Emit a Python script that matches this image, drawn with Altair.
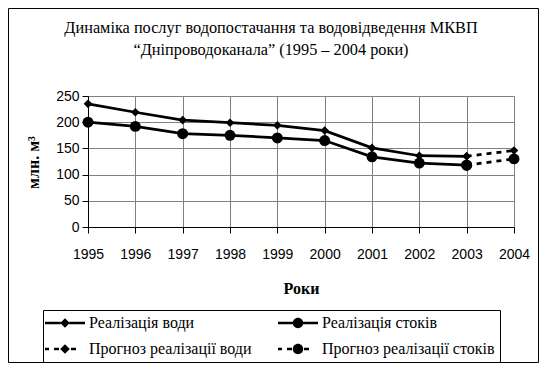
import altair as alt
import pandas as pd

# ---------------- data ----------------
years = ["1995", "1996", "1997", "1998", "1999", "2000", "2001", "2002", "2003", "2004"]
water_actual = [235, 219, 204, 199, 194, 184, 151, 136, 135]
sewage_actual = [200, 192, 178, 175, 170, 165, 134, 122, 118]
forecast_years = ["2003", "2004"]
water_forecast = [135, 146]
sewage_forecast = [118, 130]

series_names = ["Реалізація води", "Реалізація стоків",
                "Прогноз реалізації води", "Прогноз реалізації стоків"]
y_ticks = [0, 50, 100, 150, 200, 250]

title_lines = ["Динаміка послуг водопостачання та водовідведення МКВП",
               "“Дніпроводоканала” (1995 – 2004 роки)"]
x_title = "Роки"
y_title = "млн. м³"

rows = []
for y, v in zip(years[:9], water_actual):
    rows.append({"year": y, "value": v, "series": series_names[0], "kind": "water", "fc": 0})
for y, v in zip(years[:9], sewage_actual):
    rows.append({"year": y, "value": v, "series": series_names[1], "kind": "sewage", "fc": 0})
for y, v in zip(forecast_years, water_forecast):
    rows.append({"year": y, "value": v, "series": series_names[2], "kind": "water", "fc": 1})
for y, v in zip(forecast_years, sewage_forecast):
    rows.append({"year": y, "value": v, "series": series_names[3], "kind": "sewage", "fc": 1})
df = pd.DataFrame(rows)

# ------------- legend symbol paths (symbol size 256 -> 8 px per unit) -------------
PX = 8.0
SHIFT = 11.0      # path starts 11 px left of the symbol centre
HALF = 1.35       # half line thickness, px

def u(px):
    return (px - SHIFT) / PX

def bar(a, b):
    h = HALF / PX
    return f"M{u(a):.3f},{-h:.3f}H{u(b):.3f}V{h:.3f}H{u(a):.3f}Z"

def diamond(cx, k_px):
    c = u(cx); k = k_px / PX
    return f"M{c - k:.3f},0L{c:.3f},{-k:.3f}L{c + k:.3f},0L{c:.3f},{k:.3f}Z"

def circle(cx, r_px):
    c = u(cx); k = r_px / PX
    return (f"M{c - k:.3f},0A{k:.3f},{k:.3f} 0 1,1 {c + k:.3f},0"
            f"A{k:.3f},{k:.3f} 0 1,1 {c - k:.3f},0Z")

L = 40
mid = 20
DR, CR = 4.8, 5.2
solid_d = bar(0, mid - DR + 0.5) + bar(mid + DR - 0.5, L)
solid_c = bar(0, mid - CR + 0.5) + bar(mid + CR - 0.5, L)
dashed_line = bar(0, 4) + bar(9, 14) + bar(26, 31)
legend_order = [series_names[0], series_names[2], series_names[1], series_names[3]]
legend_paths = [solid_d + diamond(mid, DR),
                dashed_line + diamond(mid, DR),
                solid_c + circle(mid, CR),
                dashed_line + circle(mid, CR)]

# ---------------- chart ----------------
x_enc = alt.X("year:O", scale=alt.Scale(type="point", padding=0, domain=years),
              axis=alt.Axis(title=x_title, labelAngle=0, tickSize=6, labelPadding=14,
                            titleY=61, titleBaseline="middle",
                            titleFont="Liberation Serif", titleFontSize=16,
                            titleFontWeight="bold"))
y_enc = alt.Y("value:Q", scale=alt.Scale(domain=[0, 250], nice=False),
              axis=alt.Axis(title=y_title, values=y_ticks, tickSize=6, labelPadding=3,
                            titleX=-55, titleY=66, titleAngle=270,
                            titleAlign="center", titleBaseline="middle",
                            titleFont="Liberation Serif", titleFontSize=16,
                            titleFontWeight="bold"))

base = alt.Chart(df)

solid_lines = base.transform_filter(alt.datum.fc == 0).mark_line(
    color="black", strokeWidth=2.75).encode(x=x_enc, y=y_enc, detail="series:N")

dashed_lines = base.transform_filter(alt.datum.fc == 1).mark_line(
    color="black", strokeWidth=2.75, strokeDash=[5, 5]).encode(x=x_enc, y=y_enc, detail="series:N")

diamonds = base.transform_filter(alt.datum.kind == "water").mark_point(
    shape="diamond", filled=True, color="black", size=75, opacity=1).encode(x=x_enc, y=y_enc)

circles = base.transform_filter(alt.datum.kind == "sewage").mark_point(
    shape="circle", filled=True, color="black", size=120, opacity=1).encode(x=x_enc, y=y_enc)

legend_layer = base.mark_point(filled=True, color="black", opacity=0).encode(
    x=x_enc, y=y_enc,
    shape=alt.Shape("series:N",
                    scale=alt.Scale(domain=legend_order, range=legend_paths),
                    legend=alt.Legend(title=None, orient="none", legendX=-45, legendY=214,
                                      columns=2, columnPadding=26, rowPadding=10,
                                      padding=5, strokeColor="black", fillColor="white",
                                      symbolSize=256, symbolOpacity=1,
                                      symbolFillColor="black", symbolStrokeWidth=0,
                                      labelOffset=25,
                                      labelFont="Liberation Serif", labelFontSize=16,
                                      labelColor="black", labelLimit=400)))

one = alt.Chart(pd.DataFrame({"a": [0]}))
frame = one.mark_rect(fill="transparent", stroke="black", strokeWidth=1).encode(
    x=alt.value(-79.5), x2=alt.value(450.5), y=alt.value(-87.5), y2=alt.value(266.5))

title1 = one.mark_text(text=title_lines[0], font="Liberation Serif", fontSize=16.3,
                       color="black", align="center", baseline="middle").encode(
    x=alt.value(183), y=alt.value(-68))
title2 = one.mark_text(text=title_lines[1], font="Liberation Serif", fontSize=16.3,
                       color="black", align="center", baseline="middle").encode(
    x=alt.value(183), y=alt.value(-46))

chart = alt.layer(frame, title1, title2, solid_lines, dashed_lines, diamonds, circles,
                  legend_layer).properties(
    width=426, height=131,
    autosize="none",
    padding={"left": 80, "top": 88, "right": 25, "bottom": 136},
).configure(background="white").configure_view(stroke=None).configure_axis(
    labelFont="Liberation Sans", labelFontSize=14, labelColor="black",
    domainColor="black", tickColor="black", gridColor="#808080", gridWidth=1,
    titleColor="black", grid=True
)

chart.save("out.html", embed_options={"renderer": "svg", "actions": False})
